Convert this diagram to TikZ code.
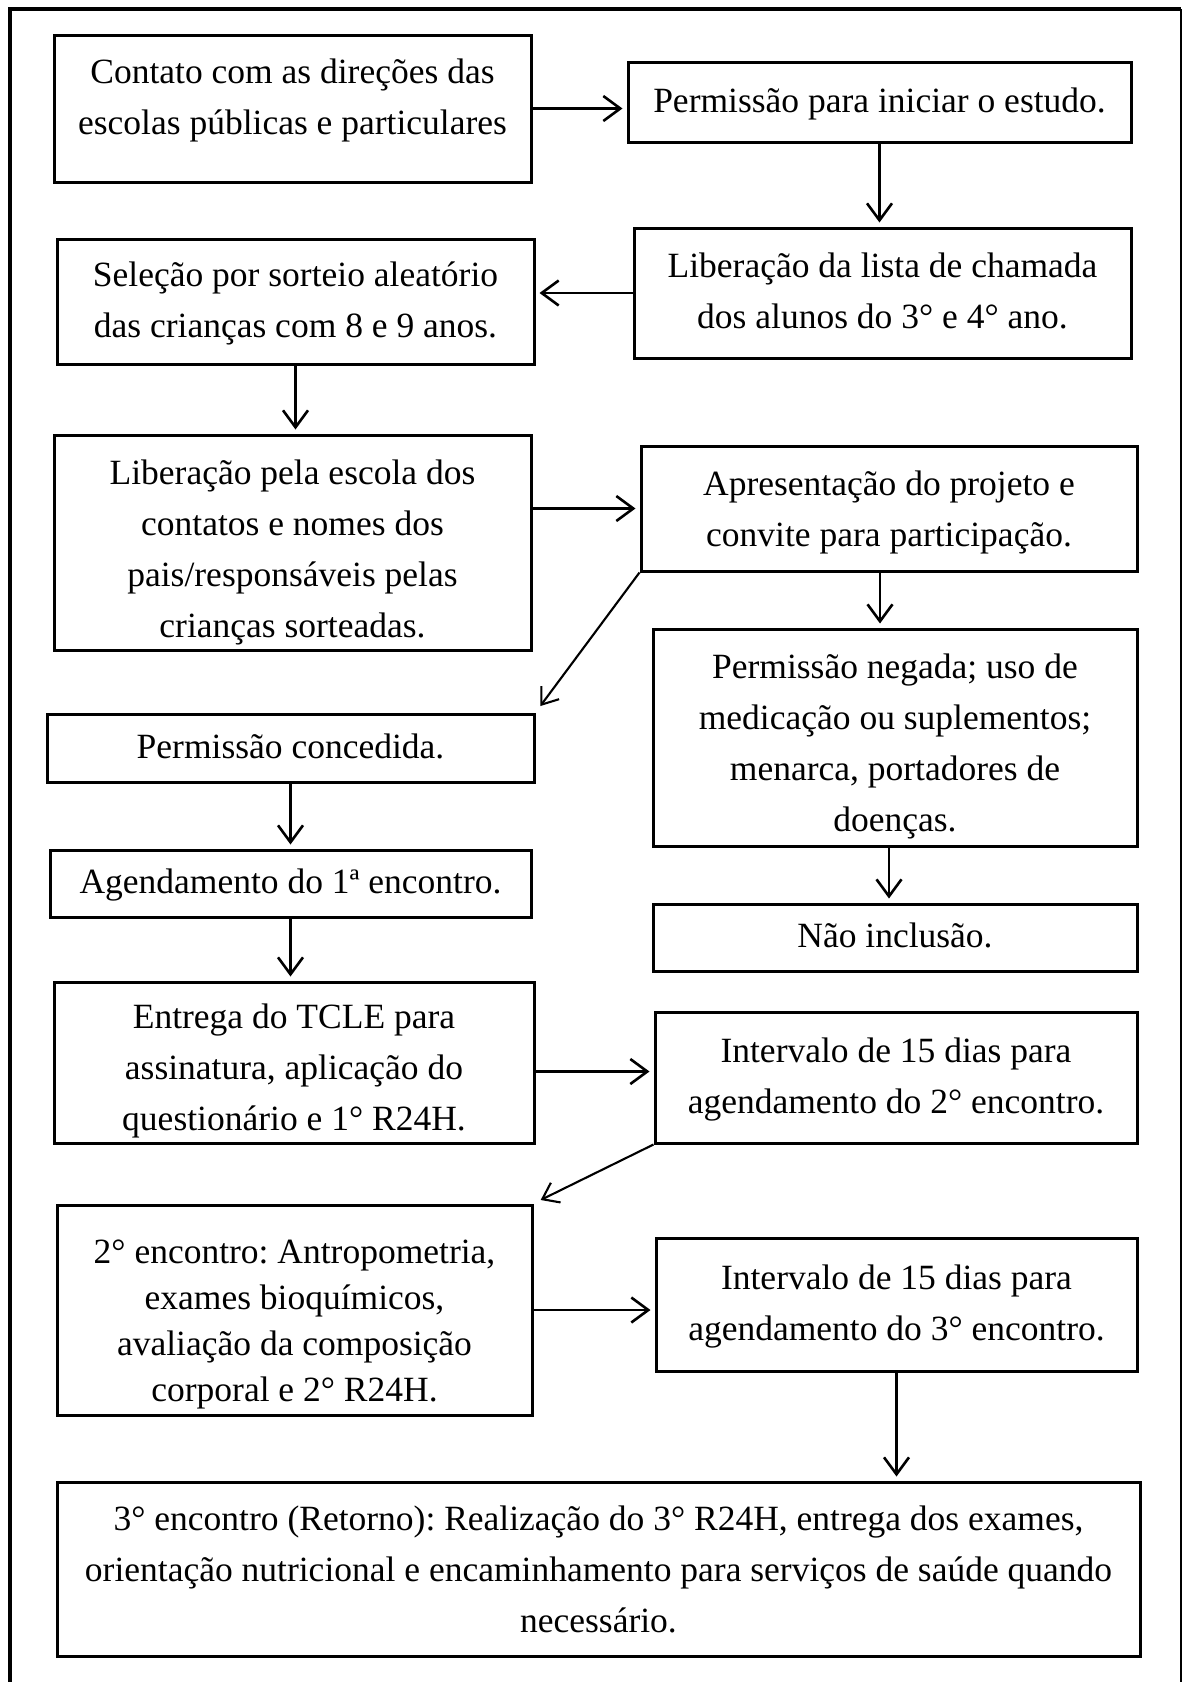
\documentclass[tikz,border=0pt]{standalone}
\usepackage{fontspec}
\setmainfont{Liberation Serif}
\usetikzlibrary{arrows.meta}
\frenchspacing
\newcommand\boxtext[2]{\raisebox{#1}[\height][\depth]{\begin{tabular}{@{}c@{}}#2\end{tabular}}}
\tikzset{
  stagebox/.style={draw, line width=3pt, inner sep=0pt, anchor=center,
    font=\fontsize{35.5}{51}\selectfont},
  arr/.style={line width=2.6pt, shorten >=4pt, -{Straight Barb[length=17pt,width=25pt]}},
  diagarr/.style={line width=2.1pt, shorten >=8pt, -{Straight Barb[length=15pt,width=22pt]}}
}
\begin{document}
\begin{tikzpicture}[x=1pt,y=-1pt]
\useasboundingbox (0,0) rectangle (1183,1682);
\fill[white] (0,0) rectangle (1183,1682);
% outer frame (bottom edge not visible)
\draw[line width=3.3pt] (10,1682) -- (10,9) -- (1181,9);
\draw[line width=1.2pt] (1181,9) -- (1181,1682);

\node[stagebox, minimum width=477pt, minimum height=147pt] (b1) at (292.5,108.5)
  {\boxtext{10pt}{Contato com as direções das\\escolas públicas e particulares}};
\node[stagebox, minimum width=503pt, minimum height=80pt] (b2) at (879.5,102)
  {\boxtext{0pt}{Permissão para iniciar o estudo.}};
\node[stagebox, minimum width=497pt, minimum height=130pt] (b3) at (882.5,293)
  {\boxtext{0pt}{Liberação da lista de chamada\\dos alunos do 3° e 4° ano.}};
\node[stagebox, minimum width=477pt, minimum height=125pt] (b4) at (295.5,301.5)
  {\boxtext{0pt}{Seleção por sorteio aleatório\\das crianças com 8 e 9 anos.}};
\node[stagebox, minimum width=477pt, minimum height=215pt] (b5) at (292.5,542.5)
  {\boxtext{-8pt}{Liberação pela escola dos\\contatos e nomes dos\\pais/responsáveis pelas\\crianças sorteadas.}};
\node[stagebox, minimum width=496pt, minimum height=125pt] (b6) at (889,508.5)
  {\boxtext{-2pt}{Apresentação do projeto e\\convite para participação.}};
\node[stagebox, minimum width=487pt, minimum height=68pt] (b7) at (290.5,748)
  {\boxtext{0pt}{Permissão concedida.}};
\node[stagebox, minimum width=481pt, minimum height=67pt] (b8) at (290.5,883.5)
  {\boxtext{0pt}{Agendamento do 1ª encontro.}};
\node[stagebox, minimum width=484pt, minimum height=217pt] (b9) at (895,737.5)
  {\boxtext{-7pt}{Permissão negada; uso de\\medicação ou suplementos;\\menarca, portadores de\\doenças.}};
\node[stagebox, minimum width=484pt, minimum height=67pt] (b10) at (895,937.5)
  {\boxtext{0pt}{Não inclusão.}};
\node[stagebox, minimum width=480pt, minimum height=161pt] (b11) at (294,1062.5)
  {\boxtext{-7pt}{Entrega do TCLE para\\assinatura, aplicação do\\questionário e 1° R24H.}};
\node[stagebox, minimum width=482pt, minimum height=131pt] (b12) at (896,1077.5)
  {\boxtext{0pt}{Intervalo de 15 dias para\\agendamento do 2° encontro.}};
\node[stagebox, minimum width=475pt, minimum height=210pt,
  font=\fontsize{35.5}{46}\selectfont] (b13) at (294.5,1310)
  {\boxtext{-13pt}{2° encontro: Antropometria,\\exames bioquímicos,\\avaliação da composição\\corporal e 2° R24H.}};
\node[stagebox, minimum width=481pt, minimum height=133pt] (b14) at (896.5,1304.5)
  {\boxtext{0pt}{Intervalo de 15 dias para\\agendamento do 3° encontro.}};
\node[stagebox, minimum width=1083pt, minimum height=174pt] (b15) at (598.5,1569)
  {\boxtext{-2pt}{3° encontro (Retorno): Realização do 3° R24H, entrega dos exames,\\orientação nutricional e encaminhamento para serviços de saúde quando\\necessário.}};

% connectors
\draw[arr] (b1.east) -- (b1.east -| b2.west);
\draw[arr] (b2.south) -- (b2.south |- b3.north);
\draw[arr] (b3.west) -- (b3.west -| b4.east);
\draw[arr] (b4.south) -- (b4.south |- b5.north);
\draw[arr] (b6.west -| b5.east) -- (b6.west);
\draw[diagarr] (b6.south west) -- (b7.north east);
\draw[arr] ([xshift=-9pt]b6.south) -- ([xshift=-9pt]b6.south |- b9.north);
\draw[arr] ([xshift=-6pt]b9.south) -- ([xshift=-6pt]b9.south |- b10.north);
\draw[arr] (b7.south) -- (b7.south |- b8.north);
\draw[arr] (b8.south) -- (b8.south |- b11.north);
\draw[arr] ([yshift=-9pt]b11.east) -- ([yshift=-9pt]b11.east -| b12.west);
\draw[diagarr] (b12.south west) -- (b13.north east);
\draw[arr] (b13.east) -- (b13.east -| b14.west);
\draw[arr] (b14.south) -- (b14.south |- b15.north);
\end{tikzpicture}
\end{document}
